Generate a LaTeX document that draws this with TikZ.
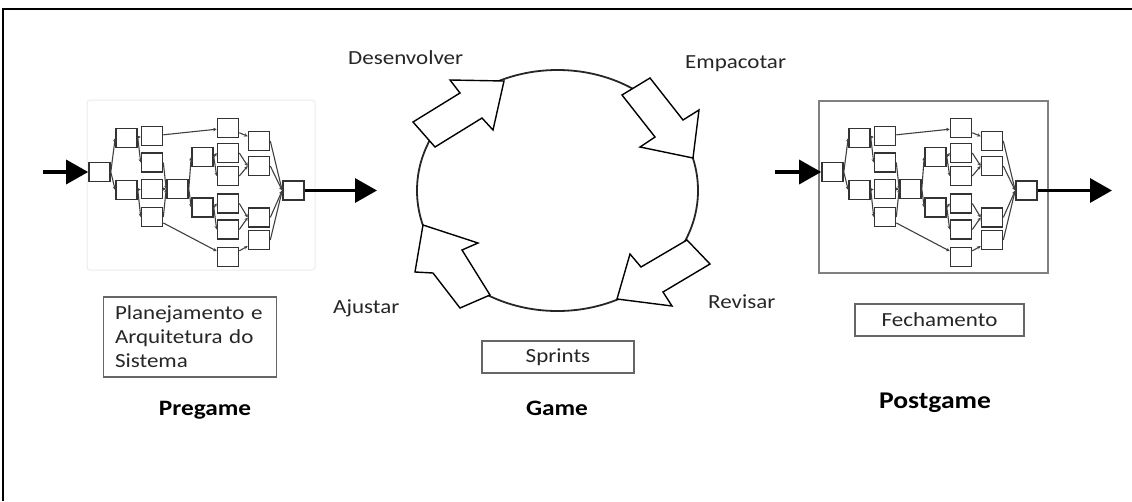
\documentclass[tikz,border=0pt]{standalone}
\usepackage{fontspec}
\setmainfont{Carlito}[FakeStretch=1.15]
\usetikzlibrary{arrows.meta}

\tikzset{
  box/.style={draw=black!80, fill=white, line width=1.6pt, minimum width=21pt, minimum height=19pt, inner sep=0pt},
  link/.style={draw=black!75, line width=1.1pt, -{Stealth[length=3.5pt,width=3.5pt]}},
  flow/.style={line width=3.2pt, -{Triangle[length=22pt,width=24pt]}},
  cyclelabel/.style={text=black!85, font=\fontsize{20}{24}\selectfont, inner sep=0pt, anchor=west},
  caption/.style={draw=black!60, line width=1.3pt, text=black!85, font=\fontsize{20}{24}\selectfont},
  phase/.style={font=\bfseries\fontsize{22}{26}\selectfont},
  blockarrow/.style={draw=black, fill=white, line width=1.4pt, line join=miter}
}

\begin{document}
\begin{tikzpicture}[x=1pt,y=-1pt]
\useasboundingbox (0,0) rectangle (1132,501);
\draw[line width=1.8pt] (3,501) -- (3,9) -- (1132,9);

\draw[draw=black!8, line width=1pt, rounded corners=3pt] (87,100) rectangle (315,270);
\draw[draw=black!50, line width=1.2pt] (819,101) rectangle (1048,273);

\foreach \dx/\p in {0/L,733/R}{
\begin{scope}[xshift=\dx]
\node[box] (\p-s) at (99.5,172) {};
\node[box] (\p-a1) at (126.5,138) {};
\node[box] (\p-a2) at (126.5,190) {};
\node[box] (\p-b1) at (152,136) {};
\node[box] (\p-b2) at (152,162.5) {};
\node[box] (\p-b3) at (152,189) {};
\node[box] (\p-b4) at (152,217) {};
\node[box] (\p-m) at (177.5,189) {};
\node[box] (\p-c1) at (202.5,157) {};
\node[box] (\p-c2) at (202.5,207.5) {};
\node[box] (\p-f1) at (228,128) {};
\node[box] (\p-f2) at (228,153) {};
\node[box] (\p-f3) at (228,176) {};
\node[box] (\p-f4) at (228,203.5) {};
\node[box] (\p-f5) at (228,229.5) {};
\node[box] (\p-f6) at (228,257) {};
\node[box] (\p-g1) at (259,141) {};
\node[box] (\p-g2) at (259,166) {};
\node[box] (\p-g3) at (259,217.5) {};
\node[box] (\p-g4) at (259,240) {};
\node[box] (\p-e) at (293.5,190.5) {};

\draw[link] (\p-s.east) -- (\p-a1.west);
\draw[link] (\p-s.east) -- (\p-a2.west);
\draw[link] (\p-a1) -- (\p-b1);
\draw[link] (\p-a1.east) -- (\p-b2.west);
\draw[link] (\p-a2) -- (\p-b3);
\draw[link] (\p-a2.east) -- (\p-b4.west);
\draw[link] (\p-b1) -- (\p-f1);
\draw[link] (\p-b4) -- (\p-f6);
\draw[link] (\p-b2.east) -- (\p-m.west);
\draw[link] (\p-b3) -- (\p-m);
\draw[link] (\p-b4.east) -- (\p-m.west);
\draw[link] (\p-m.east) -- (\p-c1.west);
\draw[link] (\p-m.east) -- (\p-c2.west);
\draw[link] (\p-c1.east) -- (\p-f2.west);
\draw[link] (\p-c1.east) -- (\p-f3.west);
\draw[link] (\p-c2.east) -- (\p-f4.west);
\draw[link] (\p-c2.east) -- (\p-f5.west);
\draw[link] (\p-f1) -- (\p-g1);
\draw[link] (\p-f2.east) -- (\p-g2.west);
\draw[link] (\p-f3.east) -- (\p-g2.west);
\draw[link] (\p-f4.east) -- (\p-g3.west);
\draw[link] (\p-f5.east) -- (\p-g3.west);
\draw[link] (\p-f6) -- (\p-g4);
\draw[link] (\p-g1.east) -- (\p-e.west);
\draw[link] (\p-g2.east) -- (\p-e.west);
\draw[link] (\p-g3.east) -- (\p-e.west);
\draw[link] (\p-g4.east) -- (\p-e.west);
\end{scope}
}

\coordinate (pre-in) at (43,172);
\coordinate (pre-out) at (377,190.5);
\coordinate (post-in) at (775,172);
\coordinate (post-out) at (1112,190.5);
\draw[flow] (pre-in) -- (L-s.west);
\draw[flow] (L-e.east) -- (pre-out);
\draw[flow] (post-in) -- (R-s.west);
\draw[flow] (R-e.east) -- (post-out);

\draw[line width=1.8pt, black!85] (557.5,190.5) ellipse [x radius=140.5, y radius=120.5];
\draw[blockarrow] (435,147) -- (482,118) -- (493,130) -- (504,81) -- (450,80) -- (460,93) -- (413,122) -- cycle;
\draw[blockarrow] (622,95) -- (650,78) -- (683,120) -- (699,110) -- (693,158) -- (640,147) -- (655,137) -- cycle;
\draw[blockarrow] (687,240) -- (710,264) -- (663,292) -- (672,306) -- (617,299) -- (630,254) -- (641,267) -- cycle;
\draw[blockarrow] (490,295) -- (460,308) -- (433,273) -- (415,272) -- (423,225) -- (478,243) -- (462,250) -- cycle;

\node[cyclelabel] (dev) at (348,58) {Desenvolver};
\node[cyclelabel] (pack) at (685,64) {Empacotar};
\node[cyclelabel] (rev) at (708,302) {Revisar};
\node[cyclelabel] (adj) at (333,308) {Ajustar};

\node[caption, minimum height=80pt, text width=150pt, inner xsep=11.5pt, align=left] (plan) at (190,337) {Planejamento e\\Arquitetura do\\Sistema};
\node[caption, minimum width=152pt, minimum height=32pt] (sprints) at (558,357) {Sprints};
\node[caption, minimum width=169pt, minimum height=32pt] (close) at (939.5,320) {Fechamento};

\node[phase] (pregame) at (205,410) {Pregame};
\node[phase] (game) at (557,408) {Game};
\node[phase, font=\bfseries\fontsize{24}{28}\selectfont] (postgame) at (935,403) {Postgame};
\end{tikzpicture}
\end{document}
